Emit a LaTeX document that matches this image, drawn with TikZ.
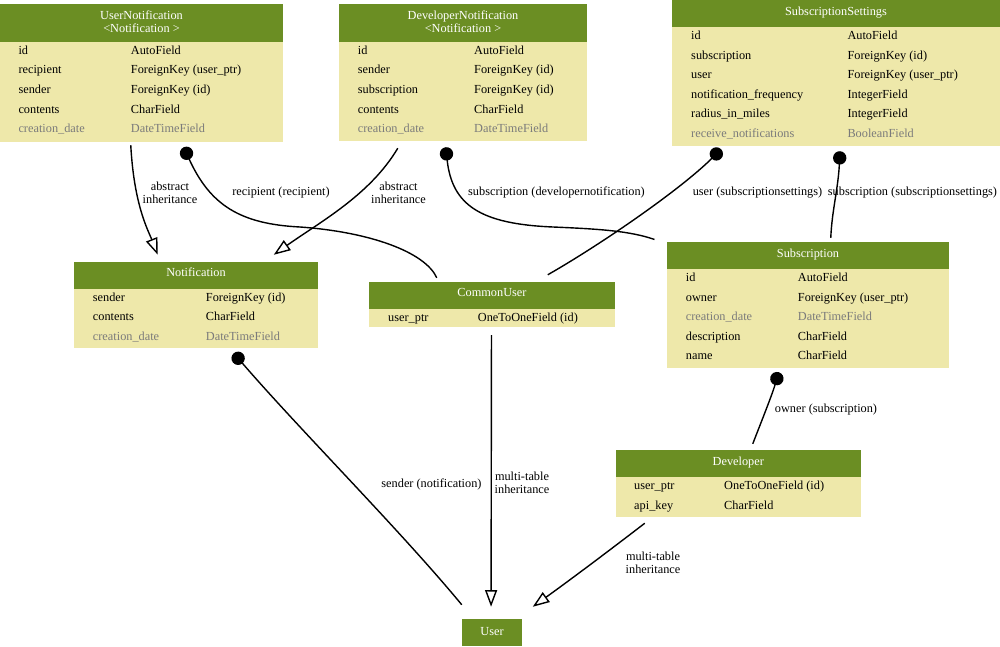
\documentclass[tikz,border=0pt]{standalone}
\usepackage{fontspec}
\setmainfont{Liberation Serif}
\usetikzlibrary{arrows.meta,fit,calc}
\definecolor{headgreen}{RGB}{107,142,35}
\definecolor{bodysand}{RGB}{238,232,170}
\definecolor{fieldgray}{RGB}{123,123,123}

\begin{document}
\begin{tikzpicture}[x=0.3mm, y=-0.3mm,
    tbody/.style={fill=bodysand, inner sep=0pt},
    thead/.style={fill=headgreen, inner sep=0pt},
    htxt/.style={anchor=base, inner sep=0pt, text=white, font=\fontsize{10.5}{12}\selectfont},
    fld/.style={anchor=base west, inner sep=0pt, font=\fontsize{10.5}{12}\selectfont},
    lbl/.style={align=center, inner sep=0pt, font=\fontsize{10.5}{11}\selectfont},
    fk/.style={{Circle[length=4mm]}-, line width=0.42mm},
    inh/.style={-{Triangle[open, length=5mm, width=3.6mm]}, line width=0.42mm}]
  \useasboundingbox (0,0) rectangle (1000,647);
  % UserNotification
  \node[tbody, fit={(0,4) (283,141.7)}] (un) {};
  \node[thead, fit={(0,4) (283,41.7)}] (unh) {};
  \node[htxt] (unh-a) at (141.5,20) {UserNotification};
  \node[htxt] (unh-b) at (141.5,32.3) {<Notification >};
  \foreach \i/\f/\t/\c in {0/id/AutoField/black, 1/recipient/ForeignKey (user\_ptr)/black,
      2/sender/ForeignKey (id)/black, 3/contents/CharField/black,
      4/creation\_date/DateTimeField/fieldgray}{
    \node[fld, text=\c] (un-f\i) at (18.3,54.3+19.6*\i) {\f};
    \node[fld, text=\c] (un-t\i) at (130.7,54.3+19.6*\i) {\t};
  }
  % DeveloperNotification
  \node[tbody, fit={(339,4) (587,141)}] (dn) {};
  \node[thead, fit={(339,4) (587,41.7)}] (dnh) {};
  \node[htxt] (dnh-a) at (463,20) {DeveloperNotification};
  \node[htxt] (dnh-b) at (463,32.3) {<Notification >};
  \foreach \i/\f/\t/\c in {0/id/AutoField/black, 1/sender/ForeignKey (id)/black,
      2/subscription/ForeignKey (id)/black, 3/contents/CharField/black,
      4/creation\_date/DateTimeField/fieldgray}{
    \node[fld, text=\c] (dn-f\i) at (357.7,54.3+19.6*\i) {\f};
    \node[fld, text=\c] (dn-t\i) at (474,54.3+19.6*\i) {\t};
  }
  % SubscriptionSettings
  \node[tbody, fit={(672.3,0) (1000,146)}] (ss) {};
  \node[thead, fit={(672.3,0) (1000,26.7)}] (ssh) {};
  \node[htxt] (ssh-a) at (836,15.5) {SubscriptionSettings};
  \foreach \i/\f/\t/\c in {0/id/AutoField/black, 1/subscription/ForeignKey (id)/black,
      2/user/ForeignKey (user\_ptr)/black, 3/notification\_frequency/IntegerField/black,
      4/radius\_in\_miles/IntegerField/black,
      5/receive\_notifications/BooleanField/fieldgray}{
    \node[fld, text=\c] (ss-f\i) at (691,39.5+19.6*\i) {\f};
    \node[fld, text=\c] (ss-t\i) at (847.3,39.5+19.6*\i) {\t};
  }
  % Notification
  \node[tbody, fit={(74,261.7) (318,347.7)}] (nt) {};
  \node[thead, fit={(74,261.7) (318,289)}] (nth) {};
  \node[htxt] (nth-a) at (196,276.7) {Notification};
  \foreach \i/\f/\t/\c in {0/sender/ForeignKey (id)/black, 1/contents/CharField/black,
      2/creation\_date/DateTimeField/fieldgray}{
    \node[fld, text=\c] (nt-f\i) at (92.7,301+19.6*\i) {\f};
    \node[fld, text=\c] (nt-t\i) at (205.7,301+19.6*\i) {\t};
  }
  % CommonUser
  \node[tbody, fit={(369,281.7) (615,327)}] (cu) {};
  \node[thead, fit={(369,281.7) (615,309)}] (cuh) {};
  \node[htxt] (cuh-a) at (492,296.7) {CommonUser};
  \node[fld] (cu-f0) at (388,321) {user\_ptr};
  \node[fld] (cu-t0) at (477.7,321) {OneToOneField (id)};
  % Subscription
  \node[tbody, fit={(666.7,241.7) (949.3,367.7)}] (sb) {};
  \node[thead, fit={(666.7,241.7) (949.3,269.3)}] (sbh) {};
  \node[htxt] (sbh-a) at (808,257) {Subscription};
  \foreach \i/\f/\t/\c in {0/id/AutoField/black, 1/owner/ForeignKey (user\_ptr)/black,
      2/creation\_date/DateTimeField/fieldgray, 3/description/CharField/black,
      4/name/CharField/black}{
    \node[fld, text=\c] (sb-f\i) at (685.7,281.5+19.6*\i) {\f};
    \node[fld, text=\c] (sb-t\i) at (797.7,281.5+19.6*\i) {\t};
  }
  % Developer
  \node[tbody, fit={(615.7,450) (861,517)}] (dv) {};
  \node[thead, fit={(615.7,450) (861,477)}] (dvh) {};
  \node[htxt] (dvh-a) at (738.3,465.7) {Developer};
  \foreach \i/\f/\t in {0/user\_ptr/OneToOneField (id), 1/api\_key/CharField}{
    \node[fld] (dv-f\i) at (634,489.5+19.6*\i) {\f};
    \node[fld] (dv-t\i) at (724,489.5+19.6*\i) {\t};
  }
  % User
  \node[thead, fit={(462,619) (522,646)}] (us) {};
  \node[htxt] (us-a) at (492,635) {User};

  % inheritance arrows
  \draw[inh] ($(un.south west)+(131,3.3)$) .. controls (134,205) and (148,230) .. ($(nt.north west)+(84,-6.7)$);
  \draw[inh] ($(dn.south west)+(59,7)$) .. controls (370,195) and (320,222) .. ($(nt.north west)+(200,-6.7)$);
  \draw[inh] ($(cu.south west)+(122.7,8)$) -- ($(us.north west)+(29.3,-12)$);
  \draw[inh] ($(dv.south west)+(29.3,6)$) .. controls (610,550) and (570,580) .. ($(us.north west)+(71,-12)$);
  % foreign keys
  \draw[fk] ($(un.south west)+(184,5.3)$) .. controls (210,205) and (240,224) .. (300,227)
    .. controls (370,232) and (425,252) .. ($(cu.north west)+(68,-3.7)$);
  \draw[fk] ($(dn.south west)+(107,6)$) .. controls (452,205) and (480,224) .. (553,227)
    .. controls (600,229) and (630,231) .. ($(sb.north west)+(-12,-2)$);
  \draw[fk] ($(ss.south west)+(49,3)$) .. controls (680,190) and (600,245) .. ($(cu.north west)+(179,-6.7)$);
  \draw[fk] ($(ss.south west)+(168,5)$) .. controls (838,190) and (832,210) .. ($(sb.north west)+(164.3,-3.7)$);
  \draw[fk] ($(nt.south west)+(160,5.3)$) .. controls (300,430) and (400,530) .. ($(us.north west)+(0,-14)$);
  \draw[fk] ($(sb.south west)+(112.3,4.3)$) .. controls (772,395) and (762,420) .. ($(dv.north west)+(137.3,-6)$);

  % edge labels
  \node[lbl] (l-un) at (170,192.5) {abstract\\inheritance};
  \node[lbl] (l-dn) at (398.5,192.5) {abstract\\inheritance};
  \node[lbl] (l-rc) at (281,192.5) {recipient (recipient)};
  \node[lbl] (l-sd) at (556.5,192.5) {subscription (developernotification)};
  \node[lbl] (l-us) at (757.5,192.5) {user (subscriptionsettings)};
  \node[lbl] (l-ss) at (912.5,192.5) {subscription (subscriptionsettings)};
  \node[lbl] (l-se) at (431.5,484) {sender (notification)};
  \node[lbl] (l-cu) at (522,483) {multi-table\\inheritance};
  \node[lbl] (l-ow) at (826,410) {owner (subscription)};
  \node[lbl] (l-dv) at (653,562.5) {multi-table\\inheritance};
\end{tikzpicture}
\end{document}
